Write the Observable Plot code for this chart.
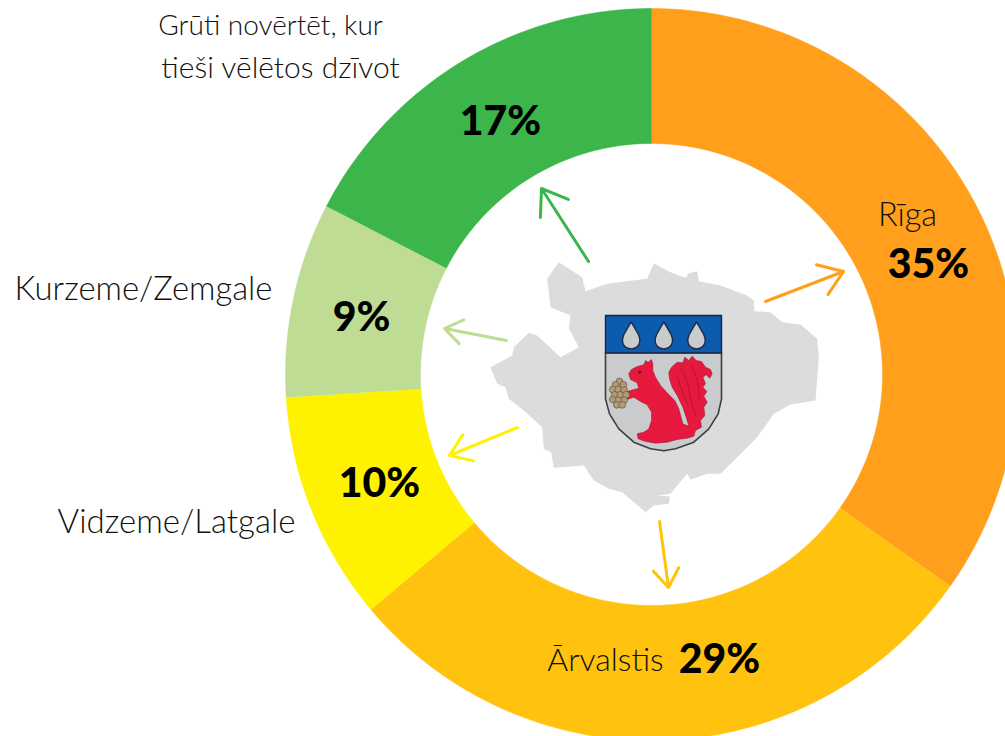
<!DOCTYPE html>
<html><head><meta charset="utf-8">
<style>html,body{margin:0;padding:0;background:#fff;overflow:hidden}svg{display:block}</style>
<script src="https://cdn.jsdelivr.net/npm/d3@7"></script>
<script src="https://cdn.jsdelivr.net/npm/@observablehq/plot@0.6"></script>
</head><body><script>
// DATA
const categories = ["Rīga", "Ārvalstis", "Vidzeme/Latgale", "Kurzeme/Zemgale", "Grūti novērtēt"];
const shares = [34.8, 29.1, 10.1, 8.6, 17.4];

// STYLE / LAYOUT
const colours = ["#FF9F1C", "#FFC30F", "#FFF200", "#BFDC95", "#3CB54B"];
const FONT = "Lato, 'Open Sans', sans-serif";
const cx = 651, cy = 374, rOut = 366, rIn = 231;

const pct = i => Math.round(shares[i]) + "%";
const pies = d3.pie().sort(null)(shares);
const slicePts = pies.flatMap((p, i) => {
  const n = Math.max(2, Math.ceil((p.endAngle - p.startAngle) * 60));
  const ang = d3.range(n + 1).map(k => p.startAngle + (p.endAngle - p.startAngle) * k / n);
  const pt = (a, r) => ({name: categories[i], x: cx + r * Math.sin(a), y: cy - r * Math.cos(a)});
  return [...ang.map(a => pt(a, rOut)), ...ang.slice().reverse().map(a => pt(a, rIn))];
});

const nameLabels = [
  {t: "Grūti novērtēt, kur", x: 270, y: 26, s: 28},
  {t: "tieši vēlētos dzīvot", x: 280, y: 68, s: 30},
  {t: categories[3], x: 143, y: 289, s: 32.8},
  {t: categories[2], x: 176, y: 522, s: 33},
  {t: categories[0], x: 907, y: 215, s: 32.5},
  {t: categories[1], x: 605, y: 660, s: 32}
];
const valueLabels = [
  {t: pct(0), x: 928, y: 264},
  {t: pct(1), x: 719, y: 659},
  {t: pct(2), x: 379, y: 483},
  {t: pct(3), x: 361, y: 317},
  {t: pct(4), x: 500, y: 121}
];
const arrows = [
  {name: categories[0], x1: 765, y1: 301, x2: 843, y2: 271},
  {name: categories[1], x1: 659, y1: 521, x2: 668, y2: 587},
  {name: categories[2], x1: 517, y1: 427, x2: 449, y2: 455},
  {name: categories[3], x1: 506, y1: 340, x2: 444, y2: 328},
  {name: categories[4], x1: 588, y1: 261, x2: 541, y2: 188}
];

// Decorative emblem outlines (traced in local units)
const toMap = ([a, b]) => ({x: 480 + a / 3, y: 250 + b / 3});
const toCrest = ([a, b]) => ({x: 595 + a / 3, y: 305 + b / 3});
const mapOutline = [[235,35],[305,80],[315,122],[380,100],[500,85],[520,38],[570,65],[615,82],[625,68],[650,62],[655,92],[720,105],[800,135],[820,150],[822,182],[870,185],[905,215],[960,222],[1010,265],[1015,320],[1005,450],[930,462],[880,490],[830,560],[770,620],[720,670],[680,670],[630,688],[620,670],[570,730],[530,735],[568,738],[565,760],[520,765],[495,785],[460,755],[425,725],[385,715],[340,690],[310,645],[220,652],[212,605],[190,595],[185,530],[130,480],[85,445],[75,410],[50,400],[30,350],[95,315],[100,290],[145,247],[170,255],[240,320],[295,290],[265,235],[270,195],[210,170],[205,125],[200,85]].map(toMap);
const shieldBase = [[30,142],[378,142],[378,280],[368,325],[340,370],[295,410],[240,430],[205,436],[165,430],[115,410],[70,370],[42,325],[30,280]].map(toCrest);
const shieldChief = [[30,30],[378,30],[378,142],[30,142]].map(toCrest);
const squirrel = [[100,205],[108,192],[125,183],[145,178],[150,165],[158,170],[168,162],[172,175],[172,195],[180,215],[195,240],[215,262],[238,285],[250,310],[258,340],[262,355],[280,362],[272,335],[262,305],[245,270],[230,245],[222,220],[220,200],[228,185],[245,170],[262,172],[268,155],[280,165],[290,152],[302,165],[318,168],[330,185],[345,192],[350,205],[343,218],[332,208],[322,215],[330,235],[322,245],[334,258],[325,272],[335,290],[325,305],[328,330],[315,345],[318,365],[300,375],[295,392],[275,398],[245,402],[215,410],[180,413],[150,408],[128,400],[125,385],[145,380],[160,370],[168,345],[168,320],[155,298],[135,288],[115,275],[95,282],[85,262],[105,255],[130,248],[125,232],[105,222]].map(toCrest);
const tailLines = [
  [[255,190],[275,230],[285,280],[300,330]],
  [[285,175],[305,225],[312,280]],
  [[245,215],[262,260],[278,300]]
].map(l => l.map(toCrest));
const conePts = [[72,228],[60,238],[84,238],[52,252],[68,252],[86,254],[58,268],[74,268],[92,268],[52,282],[68,284],[86,284],[64,298],[80,298]].map(toCrest);
const eye = [[133,200]].map(toCrest);
const dropAt = dx => [[107,50],[118,68],[130,90],[133,108],[125,124],[107,130],[89,124],[81,108],[84,90],[96,68]].map(([a,b]) => toCrest([a + dx, b]));
const drops = [0, 98, 196].map(dropAt);

const shape = (pts, fill, stroke = "none", strokeWidth = 1.5, curve = "linear") =>
  Plot.line([...pts, pts[0]], {x: "x", y: "y", fill, stroke, strokeWidth, curve});

const plot = Plot.plot({
  width: 1005, height: 736,
  margin: 0,
  x: {domain: [0, 1005], range: [0, 1005], axis: null},
  y: {domain: [0, 736], range: [0, 736], axis: null},
  color: {domain: categories, range: colours},
  style: {background: "#fff"},
  marks: [
    Plot.line(slicePts, {x: "x", y: "y", z: "name", fill: "name", stroke: "name", strokeWidth: 0.5}),
    shape(mapOutline, "#DCDCDC"),
    shape(shieldBase, "#C9CBCD", "#3a3f44", 1.6),
    shape(shieldChief, "#0C5BAE", "#16263f", 1.4),
    ...drops.map(d => shape(d, "#C9CBCD", "#1b2a44", 1.4, "catmull-rom")),
    shape(squirrel, "#E8193F", "#8f1228", 0.5),
    ...tailLines.map(l => Plot.line(l, {x: "x", y: "y", stroke: "#a5142f", strokeWidth: 0.8, curve: "catmull-rom"})),
    Plot.dot(eye, {x: "x", y: "y", r: 1.6, fill: "#7a1024"}),
    Plot.dot(conePts, {x: "x", y: "y", r: 3.4, fill: "#B39A78", stroke: "#6a563c", strokeWidth: 0.7}),
    Plot.arrow(arrows, {x1: "x1", y1: "y1", x2: "x2", y2: "y2", stroke: "name", strokeWidth: 3, bend: 0, headLength: 22, headAngle: 70, inset: 0}),
    Plot.text(nameLabels, {x: "x", y: "y", text: "t", fontFamily: FONT, fontSize: "s", fontWeight: 300, fill: "#111", textAnchor: "middle", lineAnchor: "middle"}),
    Plot.text(valueLabels, {x: "x", y: "y", text: "t", fontFamily: FONT, fontSize: 41, fontWeight: 900, fill: "#000", textAnchor: "middle", lineAnchor: "middle"})
  ]
});
document.body.appendChild(plot);
</script></body></html>
